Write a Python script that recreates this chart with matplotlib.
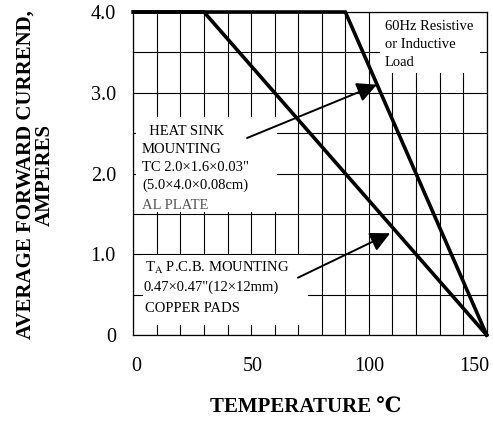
import matplotlib.pyplot as plt
from matplotlib.patches import Rectangle
from matplotlib.transforms import ScaledTranslation

plt.rcParams['font.family'] = ['Liberation Serif', 'DejaVu Serif', 'DejaVu Sans']
plt.rcParams['mathtext.fontset'] = 'stix'

# derating curves (temperature in C, current in A)
heatsink_t = [0, 90, 150]
heatsink_i = [4.0, 4.0, 0.0]
pcb_t = [0, 30, 150]
pcb_i = [4.0, 4.0, 0.0]

x_ticks = [0, 50, 100, 150]
y_ticks = [0, 1.0, 2.0, 3.0, 4.0]
y_labels = ['0', '1.0', '2.0', '3.0', '4.0']

fig = plt.figure(figsize=(4.93, 4.23), dpi=100)
ax = fig.add_axes([0.2704, 0.208, 0.7168, 0.7636])

# grid every 10 C and 0.5 A
for t in range(0, 151, 10):
    ax.axvline(t, color='black', lw=0.8, zorder=1)
for k in range(9):
    ax.axhline(k * 0.5, color='black', lw=0.8, zorder=1)

# white masks behind the notes
for (x0, y0, x1, y1) in [(104.7, 3.245, 147.2, 4.0), (1.2, 1.52, 61, 2.70), (4.1, 0.12, 74.2, 0.99)]:
    ax.add_patch(Rectangle((x0, y0), x1 - x0, y1 - y0, facecolor='white', edgecolor='none', zorder=2))

ax.plot(heatsink_t, heatsink_i, color='black', lw=2.6, zorder=4, clip_on=False, solid_joinstyle='miter')
ax.plot(pcb_t, pcb_i, color='black', lw=2.6, zorder=4, clip_on=False, solid_joinstyle='miter')

ax.set_xlim(0, 150)
ax.set_ylim(0, 4.0)
ax.set_xticks(x_ticks)
ax.set_xticklabels([str(v) for v in x_ticks])
ax.set_yticks(y_ticks)
ax.set_yticklabels(y_labels)
ax.tick_params(length=0, labelsize=14.5)
ax.tick_params(axis='y', pad=12.5)
ax.tick_params(axis='x', pad=16)
# nudge x labels like the original (last one pulled inside)
shifts = [3, 2, 0, -12]
for lab, dx in zip(ax.get_xticklabels(), shifts):
    lab.set_transform(lab.get_transform() + ScaledTranslation(dx / 100, 0, fig.dpi_scale_trans))
for s in ax.spines.values():
    s.set_linewidth(0.9)

fs = 10.5
ls = 1.48
ax.text(106.8, 3.90, '60Hz Resistive\nor Inductive\nLoad', fontsize=fs, va='top', ha='left',
        linespacing=ls, zorder=3)
ax.text(3.7, 2.60, '  HEAT SINK\nMOUNTING\nTC 2.0\u00d71.6\u00d70.03"\n(5.0\u00d74.0\u00d70.08cm)',
        fontsize=fs, va='top', ha='left', linespacing=ls, zorder=3)
ax.text(3.7, 1.61, 'AL PLATE', fontsize=fs, va='center', ha='left', color='#555555', zorder=3)
ax.text(5.0, 0.83, 'T$_{\\mathrm{A}}$ P.C.B. MOUNTING', fontsize=fs, va='center', ha='left', zorder=3)
ax.text(4.3, 0.59, '0.47\u00d70.47"(12\u00d712mm)', fontsize=fs, va='center', ha='left', zorder=3)
ax.text(5.0, 0.33, 'COPPER PADS', fontsize=fs, va='center', ha='left', zorder=3)

arrow = dict(arrowstyle='-|>,head_length=0.6,head_width=0.3', lw=1.4, color='black',
             mutation_scale=20, shrinkA=0, shrinkB=0)
ax.annotate('', xy=(103.4, 3.10), xytext=(48.3, 2.44), arrowprops=arrow, zorder=5)
ax.annotate('', xy=(109.0, 1.26), xytext=(69.9, 0.71), arrowprops=arrow, zorder=5)

fig.text(35 / 493, 1 - 175 / 423, 'AVERAGE FORWARD CURREND,\nAMPERES', rotation=90,
         ha='center', va='center', multialignment='center', fontsize=15, fontweight='bold',
         linespacing=0.95)
fig.text(306 / 493, 1 - 408 / 423, 'TEMPERATURE \u2103', ha='center', va='center',
         fontsize=15, fontweight='bold')

fig.savefig('out.png', dpi=100)
